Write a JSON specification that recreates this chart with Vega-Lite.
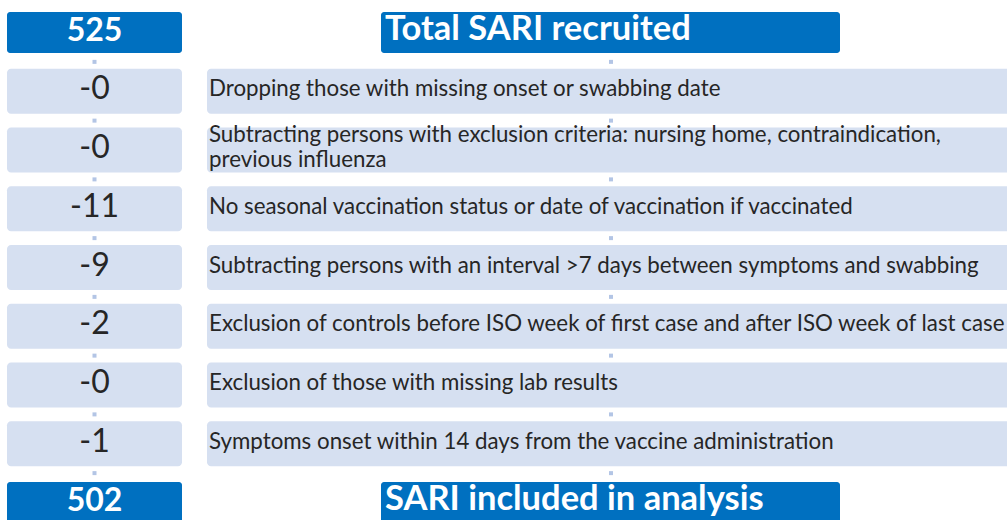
{
  "$schema": "https://vega.github.io/schema/vega-lite/v6.json",
  "width": 1007,
  "height": 520,
  "padding": 0,
  "autosize": {"type": "none"},
  "background": "#ffffff",
  "config": {"view": {"stroke": null}, "font": "Lato"},
  "data": {
    "values": [
      {"step": 0, "count": "525", "desc": "Total SARI recruited", "kind": "total"},
      {"step": 1, "count": "-0", "desc": "Dropping those with missing onset or swabbing date", "kind": "step"},
      {"step": 2, "count": "-0", "desc": "Subtracting persons with exclusion criteria: nursing home, contraindication,\nprevious influenza", "kind": "step"},
      {"step": 3, "count": "-11", "desc": "No seasonal vaccination status or date of vaccination if vaccinated", "kind": "step"},
      {"step": 4, "count": "-9", "desc": "Subtracting persons with an interval >7 days between symptoms and swabbing", "kind": "step"},
      {"step": 5, "count": "-2", "desc": "Exclusion of controls before ISO week of first case and after ISO week of last case", "kind": "step"},
      {"step": 6, "count": "-0", "desc": "Exclusion of those with missing lab results", "kind": "step"},
      {"step": 7, "count": "-1", "desc": "Symptoms onset within 14 days from the vaccine administration", "kind": "step"},
      {"step": 8, "count": "502", "desc": "SARI included in analysis", "kind": "total"}
    ]
  },
  "encoding": {
    "y": {"field": "step", "type": "ordinal", "axis": null,
      "scale": {"type": "band", "domain": [0,1,2,3,4,5,6,7,8], "range": [3.125, 531.875], "paddingInner": 0.234, "paddingOuter": 0.117}}
  },
  "layer": [
    {
      "layer": [
        {
          "transform": [{"filter": "datum.kind == 'step'"}],
          "mark": {"type": "rect", "cornerRadius": 4, "color": "#D6E0F1"},
          "encoding": {
            "x": {"datum": "left", "type": "nominal", "axis": null, "scale": {"type": "band", "range": [7, 182], "paddingInner": 0, "paddingOuter": 0}}
          }
        },
        {
          "transform": [{"filter": "datum.kind == 'total'"}],
          "mark": {"type": "rect", "cornerRadius": 3, "color": "#0070C0", "height": {"band": 0.91}},
          "encoding": {
            "x": {"datum": "left", "type": "nominal", "axis": null}
          }
        },
        {
          "transform": [{"filter": "datum.kind == 'step'"}],
          "mark": {"type": "text", "fontSize": 32, "color": "#262626", "baseline": "middle", "align": "center", "dy": -2},
          "encoding": {
            "x": {"datum": "left", "type": "nominal", "axis": null},
            "text": {"field": "count"}
          }
        },
        {
          "transform": [{"filter": "datum.kind == 'total'"}],
          "mark": {"type": "text", "fontSize": 32, "fontWeight": "bold", "color": "#ffffff", "baseline": "middle", "align": "center", "dy": -2},
          "encoding": {
            "x": {"datum": "left", "type": "nominal", "axis": null},
            "text": {"field": "count"}
          }
        },
        {
          "transform": [{"filter": "datum.step < 8"}],
          "mark": {"type": "square", "size": 16, "filled": true, "color": "#B3C5E5", "opacity": 1},
          "encoding": {
            "x": {"datum": "left", "type": "nominal", "axis": null},
            "y": {"field": "step", "type": "ordinal", "bandPosition": 1.1528}
          }
        }
      ]
    },
    {
      "layer": [
        {
          "transform": [{"filter": "datum.kind == 'step'"}],
          "mark": {"type": "rect", "cornerRadius": 4, "color": "#D6E0F1"},
          "encoding": {
            "x": {"datum": "right", "type": "nominal", "axis": null, "scale": {"type": "band", "range": [207, 1015], "paddingInner": 0, "paddingOuter": 0}}
          }
        },
        {
          "transform": [{"filter": "datum.kind == 'step' && datum.step != 2"}],
          "mark": {"type": "text", "fontSize": 22.3, "color": "#262626", "baseline": "middle", "align": "left", "dx": 2, "dy": -2},
          "encoding": {
            "x": {"datum": "right", "type": "nominal", "axis": null, "bandPosition": 0},
            "text": {"field": "desc"}
          }
        },
        {
          "transform": [{"filter": "datum.step == 2"}],
          "mark": {"type": "text", "fontSize": 22.3, "color": "#262626", "baseline": "middle", "align": "left", "dx": 2, "dy": -15, "lineBreak": "\n", "lineHeight": 25},
          "encoding": {
            "x": {"datum": "right", "type": "nominal", "axis": null, "bandPosition": 0},
            "text": {"field": "desc"}
          }
        },
        {
          "transform": [{"filter": "datum.step < 8"}],
          "mark": {"type": "square", "size": 16, "filled": true, "color": "#B3C5E5", "opacity": 1},
          "encoding": {
            "x": {"datum": "right", "type": "nominal", "axis": null, "bandPosition": 0.5},
            "y": {"field": "step", "type": "ordinal", "bandPosition": 1.1528}
          }
        }
      ]
    },
    {
      "layer": [
        {
          "transform": [{"filter": "datum.kind == 'total'"}],
          "mark": {"type": "rect", "cornerRadius": 3, "color": "#0070C0", "height": {"band": 0.91}},
          "encoding": {
            "x": {"datum": "title", "type": "nominal", "axis": null, "scale": {"type": "band", "range": [381, 840], "paddingInner": 0, "paddingOuter": 0}}
          }
        },
        {
          "transform": [{"filter": "datum.kind == 'total'"}],
          "mark": {"type": "text", "fontSize": 34.5, "fontWeight": "bold", "color": "#ffffff", "baseline": "middle", "align": "left", "dx": 4, "dy": -3},
          "encoding": {
            "x": {"datum": "title", "type": "nominal", "axis": null, "bandPosition": 0},
            "text": {"field": "desc"}
          }
        }
      ]
    }
  ],
  "resolve": {"scale": {"x": "independent"}}
}
